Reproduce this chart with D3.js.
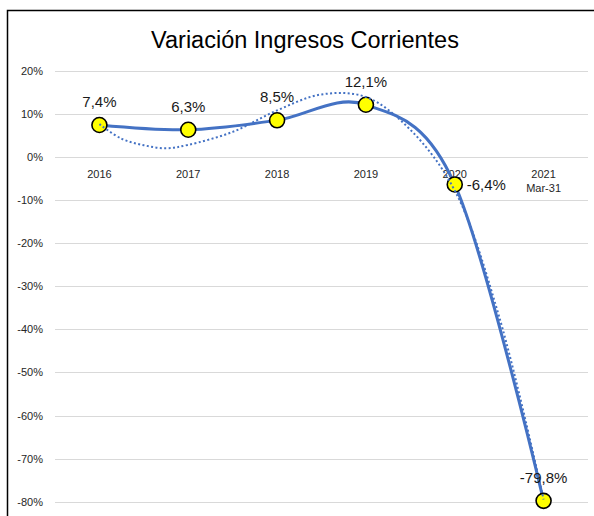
<!DOCTYPE html>
<html>
<head>
<meta charset="utf-8">
<script src="https://cdn.jsdelivr.net/npm/d3@7"></script>
<style>
  body { margin: 0; background: #fff; }
  svg { display: block; font-family: "Liberation Sans", Arial, sans-serif; }
</style>
</head>
<body>
<div id="chart"></div>
<script>
var categories = ["2016", "2017", "2018", "2019", "2020", "2021"];
var categorySub = ["", "", "", "", "", "Mar-31"];
var values = [7.4, 6.3, 8.5, 12.1, -6.4, -79.8];
var yTicks = [20, 10, 0, -10, -20, -30, -40, -50, -60, -70, -80];

// dotted trend line at category positions (0 = 2016)
var trendPos = [0, 0.25, 0.5, 0.75, 1, 1.5, 2, 2.5, 3, 3.5, 4, 4.5, 5];
var trendVals = [7.6, 4.2, 2.7, 2.0, 2.8, 5.8, 10.8, 14.5, 13.9, 6.3, -7.8, -37.1, -79.5];

var width = 594, height = 516;
var blue = "#4472C4";

var svg = d3.select("#chart")
    .append("svg")
    .attr("width", width)
    .attr("height", height);

// chart border (runs off the right and bottom edges)
svg.append("rect")
    .attr("x", 7.5).attr("y", 10.5)
    .attr("width", 600).attr("height", 520)
    .attr("fill", "none")
    .attr("stroke", "#000")
    .attr("stroke-width", 1.5);

svg.append("text")
    .attr("x", 305).attr("y", 48)
    .attr("text-anchor", "middle")
    .style("font-size", "23.5px")
    .attr("fill", "#000")
    .text("Variación Ingresos Corrientes");

var x = d3.scaleBand()
    .domain(categories)
    .range([55, 588]);
var bw = x.bandwidth();
function cx(d) { return x(d) + bw / 2; }

var y = d3.scaleLinear()
    .domain([-80, 20])
    .range([501.7, 70.7]);

var xIdx = d3.scaleLinear()
    .domain([0, categories.length - 1])
    .range([cx(categories[0]), cx(categories[categories.length - 1])]);

// gridlines
svg.append("g")
    .selectAll("line")
    .data(yTicks)
    .enter()
    .append("line")
    .attr("x1", 55).attr("x2", 588)
    .attr("y1", function(d) { return Math.round(y(d)) + 0.5; })
    .attr("y2", function(d) { return Math.round(y(d)) + 0.5; })
    .attr("stroke", "#d9d9d9")
    .attr("stroke-width", 1);

// y labels
svg.append("g")
    .selectAll("text")
    .data(yTicks)
    .enter()
    .append("text")
    .attr("x", 43)
    .attr("y", function(d) { return y(d) + 4; })
    .attr("text-anchor", "end")
    .style("font-size", "11px")
    .attr("fill", "#262626")
    .text(function(d) { return d + "%"; });

// category labels, sitting under the 0% line
var catText = svg.append("g")
    .selectAll("text")
    .data(categories)
    .enter()
    .append("text")
    .attr("text-anchor", "middle")
    .style("font-size", "11px")
    .attr("fill", "#262626");
catText.append("tspan")
    .attr("x", function(d) { return cx(d); })
    .attr("y", y(0) + 21)
    .text(function(d) { return d; });
catText.append("tspan")
    .attr("x", function(d) { return cx(d); })
    .attr("y", y(0) + 35)
    .text(function(d, i) { return categorySub[i]; });

// smoothed series line
var line = d3.line()
    .x(function(d, i) { return cx(categories[i]); })
    .y(function(d) { return y(d); })
    .curve(d3.curveCardinal.tension(0));

svg.append("path")
    .datum(values)
    .attr("d", line)
    .attr("fill", "none")
    .attr("stroke", blue)
    .attr("stroke-width", 3)
    .attr("stroke-linecap", "round");

// markers
svg.append("g")
    .selectAll("circle")
    .data(values)
    .enter()
    .append("circle")
    .attr("cx", function(d, i) { return cx(categories[i]); })
    .attr("cy", function(d) { return y(d); })
    .attr("r", 7.5)
    .attr("fill", "#FFFF00")
    .attr("stroke", "#000")
    .attr("stroke-width", 1.6);

// trend line (dotted) on top
var trendLine = d3.line()
    .x(function(d, i) { return xIdx(trendPos[i]); })
    .y(function(d) { return y(d); })
    .curve(d3.curveCatmullRom.alpha(0.5));

svg.append("path")
    .datum(trendVals)
    .attr("d", trendLine)
    .attr("fill", "none")
    .attr("stroke", blue)
    .attr("stroke-width", 2)
    .attr("stroke-dasharray", "2,2.4");

// data labels
var fmt = function(v) { return d3.format(".1f")(v).replace(".", ",").replace("−", "-") + "%"; };
svg.append("g")
    .selectAll("text")
    .data(values)
    .enter()
    .append("text")
    .attr("x", function(d, i) { return i == 4 ? cx(categories[i]) + 12 : cx(categories[i]); })
    .attr("y", function(d, i) { return i == 4 ? y(d) + 6 : y(d) - 18; })
    .attr("text-anchor", function(d, i) { return i == 4 ? "start" : "middle"; })
    .style("font-size", "15px")
    .attr("fill", "#1a1a1a")
    .text(fmt);
</script>
</body>
</html>
